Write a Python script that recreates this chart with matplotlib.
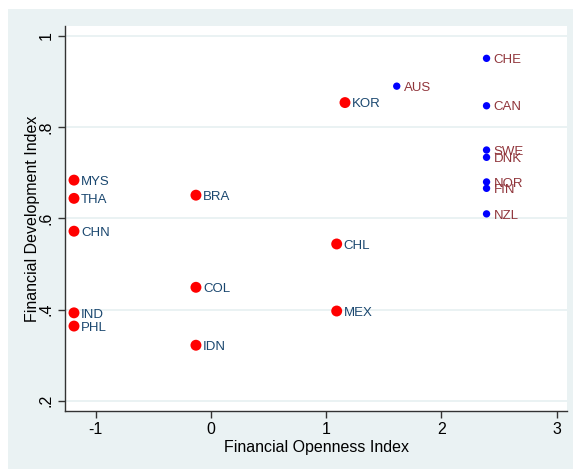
import matplotlib
matplotlib.use("Agg")
import matplotlib.pyplot as plt
from matplotlib.patches import Rectangle

plt.rcParams['font.family'] = ['Liberation Sans', 'DejaVu Sans']

# Emerging economies (red) and advanced economies (blue)
em_names = ['MYS', 'THA', 'CHN', 'IND', 'PHL', 'BRA', 'COL', 'IDN', 'CHL', 'MEX', 'KOR']
em_open = [-1.188, -1.188, -1.188, -1.188, -1.188, -0.130, -0.130, -0.130, 1.091, 1.091, 1.163]
em_dev = [0.684, 0.644, 0.572, 0.393, 0.364, 0.651, 0.449, 0.322, 0.544, 0.397, 0.854]

adv_names = ['AUS', 'CHE', 'CAN', 'SWE', 'DNK', 'NOR', 'FIN', 'NZL']
adv_open = [1.612, 2.391, 2.391, 2.391, 2.391, 2.391, 2.391, 2.391]
adv_dev = [0.890, 0.951, 0.847, 0.750, 0.734, 0.680, 0.666, 0.610]

xticks = [-1, 0, 1, 2, 3]
yticks = [0.2, 0.4, 0.6, 0.8, 1.0]
yticklabels = ['.2', '.4', '.6', '.8', '1']

W, H = 573, 469
fig = plt.figure(figsize=(W / 100, H / 100), dpi=100)
fig.patch.set_facecolor('white')
# graph region (Stata s2color style)
fig.patches.append(Rectangle((8 / W, 0), 1 - 8 / W, 1 - 9 / H, transform=fig.transFigure,
                             facecolor='#eaf2f3', edgecolor='none', zorder=-10))

ax = fig.add_axes([65 / W, 1 - 411 / H, (567 - 65) / W, (411 - 26) / H])
ax.set_facecolor('white')
ax.set_xlim(-1.266, 3.089)
ax.set_ylim(0.1778, 1.0219)

for y in yticks:
    ax.axhline(y, color='#eaf2f3', lw=1.4, zorder=1)

ax.scatter(em_open, em_dev, s=62, color='#ff0000', edgecolors='none', zorder=3)
ax.scatter(adv_open, adv_dev, s=28, color='#0000ff', edgecolors='none', zorder=3)

for n, x, y in zip(em_names, em_open, em_dev):
    ax.annotate(n, (x, y), xytext=(5, -1.2), textcoords='offset points', va='center', ha='left',
                fontsize=9.5, color='#1a476f', zorder=4)
for n, x, y in zip(adv_names, adv_open, adv_dev):
    ax.annotate(n, (x, y), xytext=(5, -1.2), textcoords='offset points', va='center', ha='left',
                fontsize=9.5, color='#90353b', zorder=4)

ax.set_xticks(xticks)
ax.set_xticklabels([str(t) for t in xticks])
ax.set_yticks(yticks)
ax.set_yticklabels(yticklabels, rotation=90, va='center')
ax.tick_params(axis='both', direction='out', length=5, width=1, color='#333333',
               labelsize=11.5, labelcolor='black', pad=3)

for s in ['top', 'right']:
    ax.spines[s].set_visible(False)
for s in ['left', 'bottom']:
    ax.spines[s].set_color('#333333')
    ax.spines[s].set_linewidth(1)

ax.set_xlabel('Financial Openness Index', fontsize=11.5, labelpad=2)
ax.set_ylabel('Financial Development Index', fontsize=11.5)
ax.yaxis.set_label_coords(-0.05, 0.5)

fig.savefig('out.png', dpi=100, facecolor=fig.get_facecolor())
